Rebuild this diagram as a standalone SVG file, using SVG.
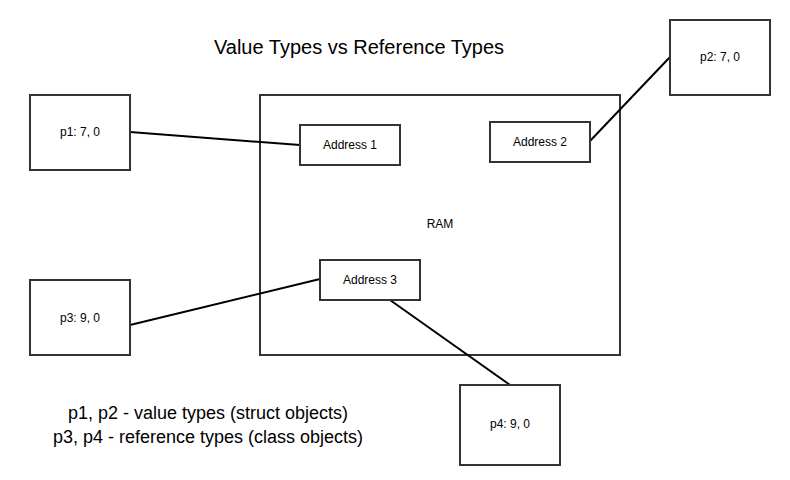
<svg xmlns="http://www.w3.org/2000/svg" width="790" height="480" viewBox="0 0 790 480">
<style>
.box{fill:#fff;stroke:#333;stroke-width:2}
.ram{fill:none;stroke:#333;stroke-width:2}
.lbl{font-family:"Liberation Sans",Arial,sans-serif;font-size:12px;fill:#000;text-anchor:middle;dominant-baseline:central}
.big{font-family:"Liberation Sans",Arial,sans-serif;font-size:18px;fill:#000;text-anchor:middle}
.conn line{stroke:#000;stroke-width:2}
</style>
<rect width="790" height="480" fill="#fff"/>
<text class="big" x="359" y="54" style="font-size:20px">Value Types vs Reference Types</text>
<g id="ram"><rect class="ram" x="260" y="95" width="360" height="260"/><text class="lbl" x="440" y="224">RAM</text></g>
<g class="conn" id="connectors">
<line x1="130" y1="132" x2="300" y2="145"/>
<line x1="590" y1="141" x2="670" y2="57"/>
<line x1="130" y1="325" x2="320" y2="279"/>
<line x1="390" y1="300" x2="510" y2="385"/>
</g>
<g id="p1"><rect class="box" x="30" y="95" width="100" height="75"/><text class="lbl" x="80" y="132">p1: 7, 0</text></g>
<g id="p2"><rect class="box" x="670" y="20" width="100" height="75"/><text class="lbl" x="720" y="57">p2: 7, 0</text></g>
<g id="p3"><rect class="box" x="30" y="280" width="100" height="75"/><text class="lbl" x="80" y="318">p3: 9, 0</text></g>
<g id="p4"><rect class="box" x="460" y="385" width="100" height="80"/><text class="lbl" x="510" y="424">p4: 9, 0</text></g>
<g id="addr1"><rect class="box" x="300" y="125" width="100" height="40"/><text class="lbl" x="350" y="145">Address 1</text></g>
<g id="addr2"><rect class="box" x="490" y="122" width="100" height="40"/><text class="lbl" x="540" y="142">Address 2</text></g>
<g id="addr3"><rect class="box" x="320" y="260" width="100" height="40"/><text class="lbl" x="370" y="280">Address 3</text></g>
<text class="big" x="208" y="419">p1, p2 - value types (struct objects)</text>
<text class="big" x="208" y="443">p3, p4 - reference types (class objects)</text>
</svg>
